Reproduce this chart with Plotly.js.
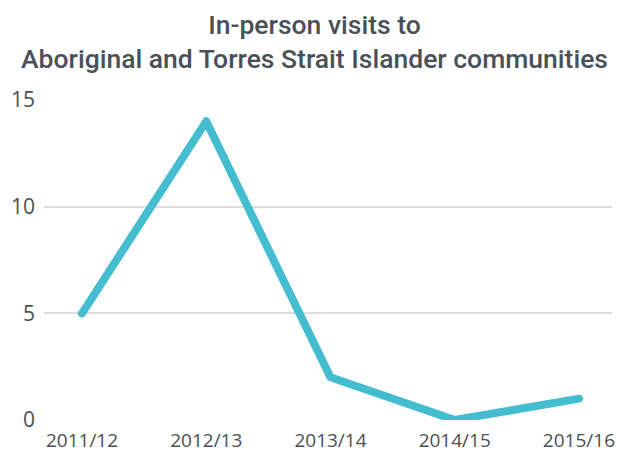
<!DOCTYPE html>
<html lang="en">
<head>
    <meta charset="UTF-8">
    <title>In-person visits</title>
    <script src="https://cdn.plot.ly/plotly-3.0.1.min.js"></script>
    <style>
        body { margin: 0; background: #fff; }
        #chart { width: 629px; height: 455px; }
        .js-line { stroke-linecap: round; stroke-linejoin: round; }
    </style>
</head>
<body>
    <div id="chart"></div>
    <script>
        // Values
        const years = ['2011/12', '2012/13', '2013/14', '2014/15', '2015/16'];
        const visits = [5, 14, 2, 0, 1];
        const yTicks = [0, 5, 10, 15];

        const trace = {
            x: years,
            y: visits,
            type: 'scatter',
            mode: 'lines',
            cliponaxis: false,
            line: { color: '#45bdd0', width: 8 },
            hoverinfo: 'x+y'
        };

        const layout = {
            width: 629,
            height: 455,
            margin: { l: 44, r: 17, t: 100, b: 35 },
            paper_bgcolor: '#fff',
            plot_bgcolor: '#fff',
            showlegend: false,
            title: {
                text: 'In-person visits to<br>Aboriginal and Torres Strait Islander communities',
                font: { family: 'Roboto, sans-serif', size: 26.5, color: '#4a5058', weight: 500 },
                x: 0.5,
                xanchor: 'center',
                y: 1 - 34 / 455,
                yanchor: 'middle'
            },
            xaxis: {
                type: 'category',
                range: [-0.306, 4.266],
                showgrid: false,
                showline: false,
                zeroline: false,
                ticks: '',
                tickfont: { family: 'Open Sans, sans-serif', size: 19, color: '#4a4f55' },
                ticklabelstandoff: 7
            },
            yaxis: {
                range: [0, 15],
                tickvals: yTicks,
                showgrid: true,
                gridcolor: '#dedede',
                gridwidth: 2,
                zeroline: false,
                showline: false,
                ticks: '',
                ticklabelstandoff: 8,
                tickfont: { family: 'Open Sans, sans-serif', size: 21, color: '#4a4f55' }
            }
        };

        Plotly.newPlot('chart', [trace], layout, { displayModeBar: false, staticPlot: true });
    </script>
</body>
</html>
